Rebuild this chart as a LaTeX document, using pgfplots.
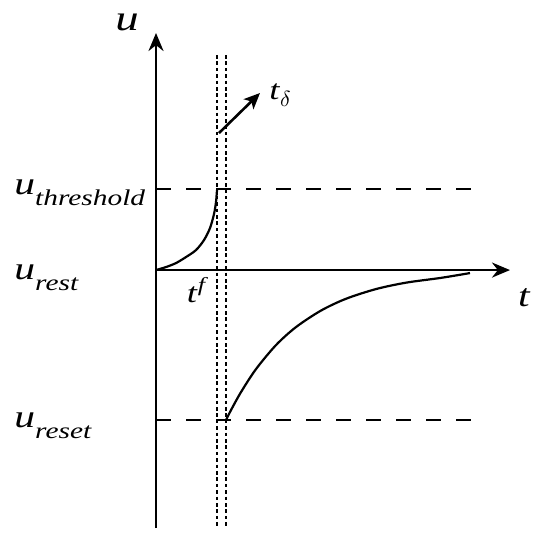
\documentclass[border=0pt]{standalone}
\usepackage{fontspec}
\setmainfont{Liberation Serif}[FakeStretch=1.3]
\usepackage{pgfplots}
\pgfplotsset{compat=1.18}
\usetikzlibrary{arrows.meta}

% level label: italic u with a lowered italic subscript
\newcommand{\lab}[2]{{\fontsize{16}{16}\selectfont\itshape #1}\raisebox{-5.5pt}{\fontsize{11.3}{11.3}\selectfont\itshape #2}}

\begin{document}
\begin{tikzpicture}
\begin{axis}[
  scale only axis, width=275pt, height=270.5pt,
  xmin=-156, xmax=394, ymin=-271, ymax=270,
  hide axis, clip=false,
]
% axes
\addplot[line width=1.3pt, -{Stealth[length=9pt,width=7.5pt]}] coordinates {(0,-258) (0,237)};
\addplot[line width=1.3pt, -{Stealth[length=9pt,width=7.5pt]}] coordinates {(0,0) (354,0)};
% threshold and reset levels
\addplot[line width=1pt, dash pattern=on 7.5pt off 7.5pt] coordinates {(0,81) (329,81)};
\addplot[line width=1pt, dash pattern=on 7.5pt off 7.5pt] coordinates {(0,-150) (329,-150)};
% spike window
\addplot[line width=1.4pt, dash pattern=on 1.8pt off 1.4pt] coordinates {(61,215) (61,-257)};
\addplot[line width=1.4pt, dash pattern=on 1.8pt off 1.4pt] coordinates {(70,215) (70,-257)};
% membrane potential rising to threshold
\addplot[line width=1.1pt, smooth] coordinates {
  (0,0) (10,3) (20,7) (30,13) (40,20) (48,30) (54,42) (58,56) (60,68) (61,80)
};
% recovery after reset
\addplot[line width=1.1pt, smooth] coordinates {
  (70,-150) (75,-140) (85,-122) (100,-99) (120,-75) (140,-57) (165,-40.5)
  (190,-28.7) (220,-19) (250,-12.6) (285,-7.8) (314,-3)
};
% t_delta arrow
\addplot[line width=1.3pt, -{Stealth[length=8pt,width=7pt,inset=2pt]}] coordinates {(63,137) (104,177)};

\node[anchor=center, font=\fontsize{18}{18}\selectfont\itshape] at (axis cs:-29,248) {u};
\node[anchor=center, font=\fontsize{16}{16}\selectfont\itshape] at (axis cs:368,-28) {t};
\node[anchor=center, font=\fontsize{14}{14}\selectfont] at (axis cs:124,175) {\textit{t}\raisebox{-0.5ex}{\fontsize{10.5}{10.5}\selectfont$\delta$}};
\node[anchor=center, font=\fontsize{14}{14}\selectfont] at (axis cs:40,-20) {\textit{t}\raisebox{0.9ex}{\fontsize{10}{10}\selectfont\itshape f}};
\node[anchor=base west, inner sep=0pt] at (axis cs:-142,76) {\lab{u}{threshold}};
\node[anchor=base west, inner sep=0pt] at (axis cs:-142,-9) {\lab{u}{rest}};
\node[anchor=base west, inner sep=0pt] at (axis cs:-142,-157) {\lab{u}{reset}};
\end{axis}
\pgfresetboundingbox
\path (current axis.south west) rectangle (current axis.north east);
\end{tikzpicture}
\end{document}
